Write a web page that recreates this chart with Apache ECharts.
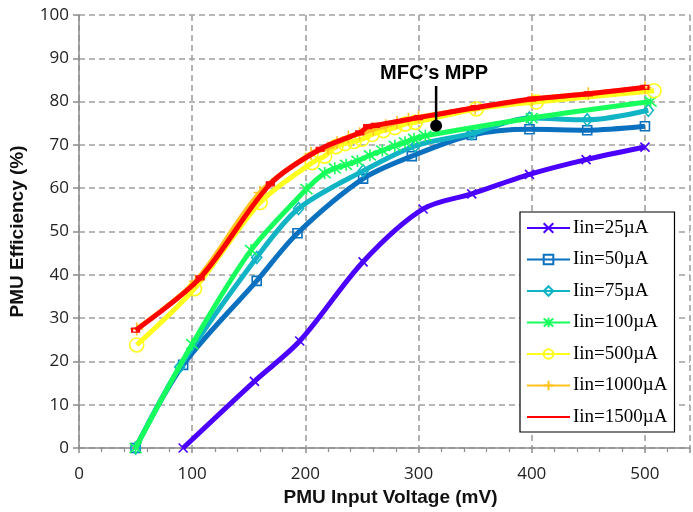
<!DOCTYPE html>
<html>
<head>
<meta charset="utf-8">
<script src="https://cdn.jsdelivr.net/npm/echarts@6/dist/echarts.min.js"></script>
<style>html,body{margin:0;padding:0;background:#fff}#c{width:693px;height:512px}</style>
</head>
<body>
<div id="c"></div>
<script>
// ---- data (PMU input voltage in mV, efficiency in %) ----
const names = ['Iin=25µA','Iin=50µA','Iin=75µA','Iin=100µA','Iin=500µA','Iin=1000µA','Iin=1500µA'];

const v25 = [92,155,195,251,304,347,398,448,500];
const e25 = [0,15.4,24.7,43,55.2,58.7,63.2,66.6,69.5];

const v50 = [50,92,157,193,251,294,347,398,449,500];
const e50 = [0,19.2,38.6,49.6,62.2,67.4,72.3,73.6,73.4,74.3];

const v75 = [50,89,157,194,251,297,347,398,449,503];
const e75 = [0,18.7,44,55.3,64,69.8,72.6,76.2,75.8,78];

const v100 = [50,100,152,201,217,226,236,246,257,268,279,288,296,306,400,505];
const e100 = [0,24,45.7,59.8,63.5,64.6,65.4,66.3,67.6,68.7,69.8,70.6,71.4,72.1,76.2,80];

const v500 = [51,102,160,206,217,227,235,243,250,259,269,279,288,297,351,404,508];
const e500 = [23.8,36.8,56.7,65.9,67.4,69.6,70.3,70.8,71.3,72.4,73.3,74,74.8,75.2,78.3,79.9,82.5];

const v1000 = [51,103,160,205,220,228,238,248,260,271,281,291,300,350,400,450,500];
const e1000 = [27.5,38.5,59,68,69.3,70.5,71.8,72.6,73.6,74.4,75.2,75.9,76.4,78.5,80.5,81.8,83.2];

const v1500 = [50,107,169,213,248,255,262,300,350,400,450,500];
const e1500 = [27.2,39.3,61,69,72.8,74.2,74.5,76.3,78.6,80.6,81.8,83.3];

const xTickValues = [0,100,200,300,400,500];
const yTickValues = [0,10,20,30,40,50,60,70,80,90,100];

const mppPoint = [315.5, 74.4];
const mppLineTop = 83.6;
const mppText = 'MFC’s MPP';

// ---- styling ----
const colors = ['#4B00FF','#0A70C0','#10B4C4','#17FF5C','#FFFF1E','#FFC21E','#FF0000'];
const symbols = [
  'path://M0,0L10,10M10,0L0,10',
  'rect',
  'diamond',
  'path://M0,0L10,10M10,0L0,10M5,-1L5,11',
  'circle',
  'path://M5,0L5,10M0,5L10,5',
  'rect'
];
const symbolSizes = [9, 9, [10,12], 12, 14, 13, [7,4]];

const xs = [v25,v50,v75,v100,v500,v1000,v1500];
const ys = [e25,e50,e75,e100,e500,e1000,e1500];

const series = names.map((n, i) => ({
  name: n,
  type: 'line',
  smooth: 0.3,
  data: xs[i].map((x, k) => [x, ys[i][k]]),
  color: colors[i],
  symbol: symbols[i],
  symbolSize: symbolSizes[i],
  showAllSymbol: true,
  lineStyle: { color: colors[i], width: 5 },
  itemStyle: { color: 'transparent', borderColor: colors[i], borderWidth: 1.6 },
  emphasis: { disabled: true },
  z: 2 + i
}));

series.push({
  name: 'mppLine',
  type: 'line',
  data: [[mppPoint[0], mppPoint[1]], [mppPoint[0], mppLineTop]],
  symbol: 'none',
  lineStyle: { color: '#000', width: 2.5, opacity: 1 },
  z: 20,
  emphasis: { disabled: true }
});
series.push({
  name: 'mppDot',
  type: 'scatter',
  data: [mppPoint],
  symbol: 'circle',
  symbolSize: 12,
  itemStyle: { color: '#000', opacity: 1 },
  z: 21,
  emphasis: { disabled: true }
});
series.push({
  name: 'mppLabel',
  type: 'scatter',
  data: [[mppPoint[0], mppLineTop]],
  symbolSize: 0,
  itemStyle: { color: '#000', opacity: 1 },
  label: {
    show: true, position: 'top', distance: 3, offset: [-2, 0],
    formatter: mppText,
    fontFamily: 'Liberation Sans', fontWeight: 'bold', fontSize: 20, color: '#000', opacity: 1
  },
  z: 21,
  emphasis: { disabled: true }
});

const legendData = names.map((n, i) =>
  i === 6 ? { name: n, itemStyle: { borderColor: 'transparent', color: 'transparent' } } : { name: n }
);

const chart = echarts.init(document.getElementById('c'), null, { renderer: 'canvas' });
const gridColor = '#A0A0A0';
chart.setOption({
  animation: false,
  backgroundColor: '#fff',
  grid: { left: 79, top: 15, right: 0, height: 438, containLabel: false },
  xAxis: {
    type: 'value', min: 0, max: 539.8, interval: 100,
    name: 'PMU Input Voltage (mV)', nameLocation: 'middle', nameGap: 40,
    nameTextStyle: { fontFamily: 'Liberation Sans', fontWeight: 'bold', fontSize: 19, color: '#111', padding: [0, 0, 0, 12] },
    axisLine: { show: true, onZero: false, lineStyle: { color: '#8C8C8C', width: 1.5 } },
    axisTick: { show: true, length: 5, lineStyle: { color: '#8C8C8C', width: 1.5 } },
    minorTick: { show: true, splitNumber: 5, length: 4, lineStyle: { color: '#8C8C8C', width: 1.2 } },
    axisLabel: {
      margin: 18, fontFamily: 'Open Sans', fontSize: 17, color: '#222',
      formatter: v => (xTickValues.indexOf(v) >= 0 ? String(v) : '')
    },
    splitLine: { show: true, lineStyle: { color: gridColor, type: [6, 4], width: 1.6 } }
  },
  yAxis: {
    type: 'value', min: 0, max: 100, interval: 10,
    name: 'PMU Efficiency (%)', nameLocation: 'middle', nameGap: 52, nameRotate: 90,
    nameTextStyle: { fontFamily: 'Liberation Sans', fontWeight: 'bold', fontSize: 19, color: '#111' },
    axisLine: { show: true, lineStyle: { color: '#8C8C8C', width: 1.5 } },
    axisTick: { show: true, length: 6, lineStyle: { color: '#8C8C8C', width: 1.5 } },
    axisLabel: {
      margin: 10, fontFamily: 'Open Sans', fontSize: 17, color: '#222',
      formatter: v => (yTickValues.indexOf(v) >= 0 ? String(v) : '')
    },
    splitLine: { show: true, lineStyle: { color: gridColor, type: [6, 4], width: 1.6 } }
  },
  legend: {
    data: legendData,
    orient: 'vertical',
    left: 520, top: 212,
    padding: [6, 7, 5, 6],
    itemGap: 11.5,
    itemWidth: 43, itemHeight: 12,
    backgroundColor: '#fff',
    borderColor: '#000', borderWidth: 1.2, borderRadius: 0,
    textStyle: { fontFamily: 'Liberation Serif', fontSize: 19, color: '#000', lineHeight: 20, padding: [0, 0, 0, -2] },
    selectedMode: false
  },
  series: series
});
</script>
</body>
</html>
